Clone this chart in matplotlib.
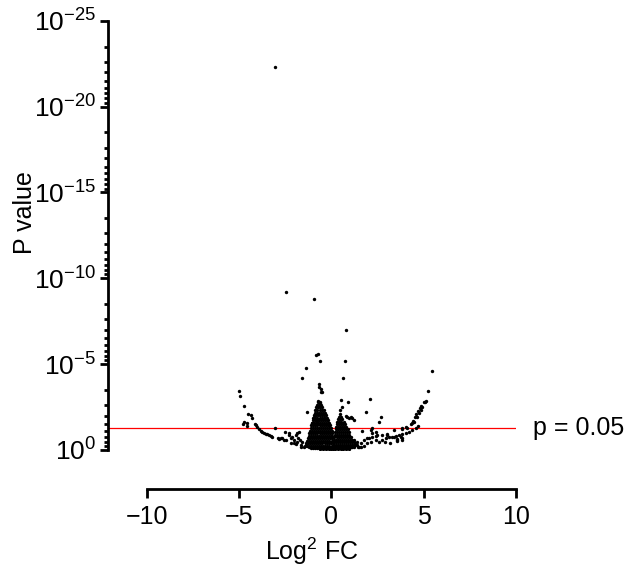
import numpy as np
import matplotlib
matplotlib.use("Agg")
import matplotlib.pyplot as plt

plt.rcParams['font.family'] = ['Liberation Sans', 'DejaVu Sans']
plt.rcParams['mathtext.fontset'] = 'custom'
plt.rcParams['mathtext.rm'] = 'Liberation Sans'
plt.rcParams['mathtext.it'] = 'Liberation Sans:italic'
plt.rcParams['mathtext.bf'] = 'Liberation Sans:bold'

# scattered genes: log2 fold change, -log10 p
sparse_fc = [
    -3.07, -2.48, -0.96, 0.81, -0.85, -0.72, -0.63, 0.72, -1.39, 5.43, -1.59, 0.61,
    -5.00, -4.97, -4.73, -4.50, -4.37, -4.32, -4.79, -4.59, -4.72, -4.58,
    -4.14, -4.10, -4.01, -3.92, -3.83, -3.74, -3.65, -3.56, -3.47, -3.38, -3.29, -3.20,
    -3.05, -2.87, -2.69, -2.51, -2.47, -2.30, -2.20, -2.11, -2.02, -1.93, -1.84, -1.79,
    -1.72, -2.02, -1.90, -1.66, -1.57, -1.48, -2.74, -2.29, -1.75, -1.84, -1.39, -1.21,
    -2.84, -2.57, -2.20, -1.66, -1.03, -1.30, -0.94, -0.85, -0.76,
    -0.67, -0.58, -0.53, -0.70, -0.63, -0.67, -0.54,
    0.50, 0.92, 1.90, 2.07, 0.45, 0.77, 1.04, 1.22, 0.59, 0.83, 0.95, 1.14,
    2.70, 2.59, 1.68, 2.13, 2.22, 2.40, 2.75, 1.22, 1.41, 1.59, 1.77, 1.95, 2.13,
    3.39, 3.57, 3.81, 1.04, 1.22, 0.87,
    2.75, 2.94, 3.12, 3.30, 3.48, 3.66, 3.84, 4.02, 4.20, 4.39, 4.56, 4.71,
    4.11, 4.29, 4.42, 4.53, 4.60, 4.69, 4.78, 4.87, 5.01, 5.11, 5.23, 5.05, 4.92, 4.83,
    4.76, 4.65, 4.47, 4.38, 3.84, 4.02,
    3.39, 3.83, 3.57, 3.84, 3.03, 2.48, 2.21, 2.40, 2.58, 2.04, 1.95, 2.40, 2.18,
    3.75, 3.57, 3.03, 1.75, 1.50, 1.30, 2.90, 3.20,
]
sparse_logp = [
    22.30, 9.18, 8.79, 6.97, 5.53, 5.61, 5.18, 5.18, 4.79, 4.60, 4.21, 4.18,
    3.45, 3.14, 2.58, 2.08, 2.04, 1.88, 1.51, 1.42, 1.65, 1.55,
    1.50, 1.46, 1.32, 1.20, 1.13, 1.07, 1.01, 0.95, 0.91, 0.87, 0.83, 0.78,
    1.26, 0.72, 0.68, 1.07, 0.58, 0.87, 0.68, 0.78, 0.58, 0.87, 0.97, 0.72,
    0.58, 0.39, 0.33, 0.29, 0.48, 0.19, 0.68, 0.97, 1.07, 0.48, 0.29, 0.19,
    0.62, 0.58, 0.39, 0.19, 1.55, 2.23, 1.94, 1.75, 1.65,
    3.83, 3.55, 3.36, 2.85, 2.72, 3.69, 3.40,
    2.91, 2.78, 2.19, 2.97, 2.33, 2.00, 1.94, 1.75, 2.52, 1.94, 1.85, 1.85,
    1.90, 1.65, 1.13, 1.16, 0.97, 0.82, 0.87, 0.58, 0.48, 0.39, 0.58, 0.68, 0.48,
    0.74, 0.54, 0.58, 0.19, 0.29, 0.10,
    0.58, 0.68, 0.74, 0.78, 0.83, 0.87, 0.93, 1.01, 1.07, 1.16, 1.26, 1.40,
    1.26, 1.50, 1.69, 1.94, 2.08, 2.27, 2.46, 2.58, 2.78, 2.85, 3.44, 2.81, 2.52, 2.33,
    2.14, 1.94, 1.65, 1.55, 1.26, 1.36,
    1.16, 1.22, 0.58, 0.68, 0.87, 0.87, 0.78, 0.58, 0.48, 0.68, 0.39, 1.07, 1.26,
    0.78, 0.62, 0.93, 0.25, 0.15, 0.35, 0.45, 0.40,
]

# dense core of the volcano, read row by row (-log10 p of each row, then its fold changes)
core_row_logp = [
    2.80, 2.62, 2.48, 2.33, 2.18, 2.03, 1.88, 1.73, 1.58, 1.43, 1.28, 1.13, 0.98, 0.83,
    0.68, 0.53, 0.38, 0.24, 0.12, 0.04,
    2.10, 1.95, 1.80, 1.65, 1.50, 1.35, 1.20, 1.05, 0.90, 0.75, 0.60, 0.45, 0.30, 0.17, 0.06,
]
core_row_fc = [
    [-0.72, -0.61],
    [-0.78, -0.66, -0.55],
    [-0.82, -0.71, -0.60, -0.49],
    [-0.86, -0.75, -0.64, -0.53, -0.42],
    [-0.90, -0.79, -0.68, -0.57, -0.46, -0.37],
    [-0.93, -0.83, -0.72, -0.61, -0.50, -0.40, -0.30],
    [-0.97, -0.86, -0.75, -0.64, -0.53, -0.42, -0.32, -0.24],
    [-1.01, -0.90, -0.79, -0.68, -0.57, -0.46, -0.35, -0.25, -0.16],
    [-1.04, -0.93, -0.82, -0.71, -0.60, -0.49, -0.38, -0.27, -0.17, -0.10],
    [-1.08, -0.97, -0.86, -0.75, -0.64, -0.53, -0.42, -0.31, -0.20, -0.10, -0.05],
    [-1.12, -1.01, -0.90, -0.79, -0.68, -0.57, -0.46, -0.35, -0.24, -0.13, -0.03],
    [-1.16, -1.05, -0.94, -0.83, -0.72, -0.61, -0.50, -0.39, -0.28, -0.17, -0.07, 0.01],
    [-1.19, -1.08, -0.97, -0.86, -0.75, -0.64, -0.53, -0.42, -0.31, -0.20, -0.09, 0.02],
    [-1.23, -1.12, -1.01, -0.90, -0.79, -0.68, -0.57, -0.46, -0.35, -0.24, -0.13, -0.02, 0.04],
    [-1.27, -1.16, -1.05, -0.94, -0.83, -0.72, -0.61, -0.50, -0.39, -0.28, -0.17, -0.06, 0.05],
    [-1.31, -1.20, -1.09, -0.98, -0.87, -0.76, -0.65, -0.54, -0.43, -0.32, -0.21, -0.10, 0.01, 0.07],
    [-1.36, -1.25, -1.14, -1.03, -0.92, -0.81, -0.70, -0.59, -0.48, -0.37, -0.26, -0.15, -0.04, 0.07],
    [-1.45, -1.32, -1.20, -1.09, -0.98, -0.87, -0.76, -0.65, -0.54, -0.43, -0.32, -0.21, -0.10, 0.01, 0.09],
    [-1.10, -0.98, -0.87, -0.76, -0.65, -0.54, -0.43, -0.32, -0.21, -0.10, 0.00, 0.09],
    [-0.60, -0.45, -0.30, -0.15, 0.00, 0.10],
    [0.45],
    [0.42, 0.53],
    [0.37, 0.48, 0.59],
    [0.33, 0.44, 0.55, 0.66],
    [0.30, 0.41, 0.52, 0.63, 0.72],
    [0.27, 0.38, 0.49, 0.60, 0.71, 0.80],
    [0.24, 0.35, 0.46, 0.57, 0.68, 0.79, 0.88],
    [0.21, 0.32, 0.43, 0.54, 0.65, 0.76, 0.87, 0.95],
    [0.19, 0.30, 0.41, 0.52, 0.63, 0.74, 0.85, 0.96],
    [0.17, 0.28, 0.39, 0.50, 0.61, 0.72, 0.83, 0.94, 1.05],
    [0.15, 0.26, 0.37, 0.48, 0.59, 0.70, 0.81, 0.92, 1.03, 1.14],
    [0.14, 0.25, 0.36, 0.47, 0.58, 0.69, 0.80, 0.91, 1.02, 1.13, 1.25],
    [0.15, 0.26, 0.37, 0.48, 0.59, 0.70, 0.81, 0.92, 1.03, 1.14, 1.28, 1.40],
    [0.19, 0.30, 0.41, 0.52, 0.63, 0.74, 0.85, 0.96, 1.10, 1.25, 1.42, 1.60],
    [0.22, 0.35, 0.50, 0.65, 0.80, 0.95],
]

threshold_p = 0.05
y_major = [0, 5, 10, 15, 20, 25]
x_major = [-10, -5, 0, 5, 10]

core_fc = [fc for row in core_row_fc for fc in row]
core_logp = [lp for lp, row in zip(core_row_logp, core_row_fc) for _ in row]
fc = np.array(sparse_fc + core_fc)
logp = np.array(sparse_logp + core_logp)

fig = plt.figure(figsize=(6.29, 5.79), dpi=100)
ax = fig.add_axes([0.1722, 0.2228, 0.6481, 0.7414])

x_left = -12.08
ax.scatter(fc, logp, s=6, color='black', linewidths=0, zorder=3)

thr = -np.log10(threshold_p)
ax.plot([x_left, 10], [thr, thr], color='red', linewidth=0.9, zorder=2)
ax.text(10.9, thr, 'p = 0.05', fontsize=18, va='center', ha='left')

ax.set_xlim(x_left, 10)
ax.set_ylim(0, 25)

for s in ['top', 'right']:
    ax.spines[s].set_visible(False)
ax.spines['left'].set_linewidth(2)
ax.spines['bottom'].set_linewidth(2)
ax.spines['left'].set_bounds(0, 25)
ax.spines['bottom'].set_bounds(-10, 10)
ax.spines['bottom'].set_position(('outward', 28))

ax.set_xticks(x_major)
ax.set_xticklabels([str(v).replace('-', '\u2212') for v in x_major])
ax.set_yticks(y_major)
ax.set_yticklabels([r'$\mathregular{10^{%d}}$' % (-v) if v else r'$\mathregular{10^{0}}$' for v in y_major])

# GraphPad-style minor ticks: log-spaced inside each 5-unit span
minor = []
for top in y_major[1:]:
    for m in range(2, 10):
        minor.append(top - 5 * np.log10(m))
ax.set_yticks(minor, minor=True)

ax.tick_params(axis='y', which='major', length=6, width=2, labelsize=19, pad=3)
ax.tick_params(axis='y', which='minor', length=3.2, width=2)
ax.tick_params(axis='x', which='major', length=6.5, width=2, labelsize=18, pad=5)

ax.set_ylabel('P value', fontsize=18)
ax.yaxis.set_label_coords(-0.175, 0.552)
ax.set_xlabel(r'Log$\mathregular{^2}$ FC', fontsize=18, labelpad=5)

fig.savefig('out.png', dpi=100)
